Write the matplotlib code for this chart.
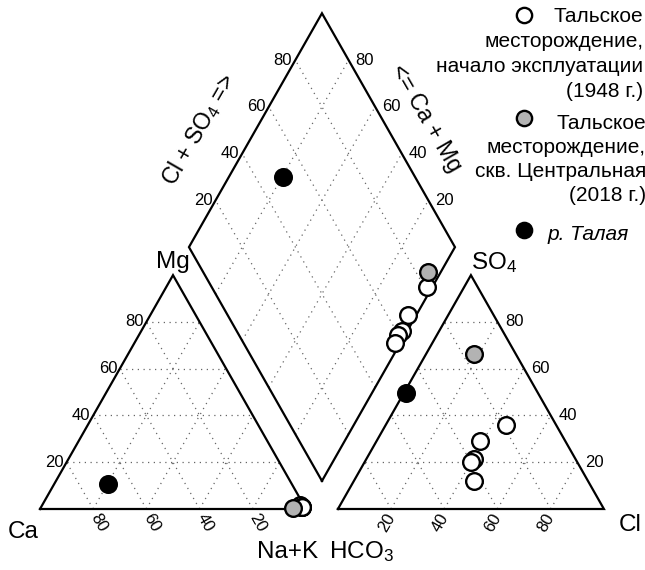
import numpy as np
import matplotlib
matplotlib.use('Agg')
import matplotlib.pyplot as plt

plt.rcParams['font.family'] = ['Liberation Sans', 'DejaVu Sans']
plt.rcParams['mathtext.fontset'] = 'custom'
plt.rcParams['mathtext.rm'] = 'Liberation Sans'
plt.rcParams['mathtext.it'] = 'Liberation Sans:italic'

# Data (% meq)
# Тальское месторождение, начало эксплуатации (1948)
ca_1948 = [1, 1.5, 1, 1.5, 1]
mg_1948 = [1, 1.5, 1, 1, 1]
nak_1948 = [98, 97, 98, 97.5, 98]
hco3_1948 = [19, 32, 38, 40, 43]
cl_1948 = [45, 39, 40.5, 40, 45]
so4_1948 = [36, 29, 21.5, 20, 12]

# скв. Центральная (2018)
ca_2018 = [4.5]
mg_2018 = [0.5]
nak_2018 = [95]
hco3_2018 = [15.5]
cl_2018 = [18]
so4_2018 = [66.5]

# р. Талая
ca_river = [69]
mg_river = [10.5]
nak_river = [20.5]
hco3_river = [49.5]
cl_river = [1]
so4_river = [49.5]

tick_values = [20, 40, 60, 80]

# Geometry
H = np.sqrt(3) / 2
GAP = 0.12
X0 = 1 + GAP              # left corner of the anion triangle
BX, BY = 1 + GAP / 2, GAP * H   # bottom corner of the diamond


def cation_xy(ca, mg, nak):
    ca, mg, nak = (np.asarray(v, float) for v in (ca, mg, nak))
    tot = ca + mg + nak
    return nak / tot + 0.5 * mg / tot, H * mg / tot


def anion_xy(hco3, cl, so4):
    hco3, cl, so4 = (np.asarray(v, float) for v in (hco3, cl, so4))
    tot = hco3 + cl + so4
    return X0 + cl / tot + 0.5 * so4 / tot, H * so4 / tot


def dpt(a, b):
    # a = Cl+SO4 fraction, b = Ca+Mg fraction
    return BX + 0.5 * (a - b), BY + H * (a + b)


def diamond_xy(ca, mg, nak, hco3, cl, so4):
    ca, mg, nak, hco3, cl, so4 = (np.asarray(v, float) for v in (ca, mg, nak, hco3, cl, so4))
    b = (ca + mg) / (ca + mg + nak)
    a = (cl + so4) / (hco3 + cl + so4)
    return dpt(a, b)


fig = plt.figure(figsize=(6.45, 5.7), dpi=100)
ax = fig.add_axes([0, 0, 1, 1])
ax.set_xlim(-40 / 266, 605 / 266)
ax.set_ylim(-61 / 270, 509 / 270)
ax.axis('off')

grid_style = dict(color='0.4', lw=0.9, linestyle=(0, (1, 3.6)), zorder=1)
edge_style = dict(color='black', lw=1.6, zorder=2, solid_joinstyle='miter')

steps = [v / 100 for v in tick_values]

# triangles
for x0 in (0, X0):
    ax.plot([x0, x0 + 1, x0 + 0.5, x0], [0, 0, H, 0], **edge_style)
    for t in steps:
        ax.plot([x0 + 0.5 * t, x0 + 1 - 0.5 * t], [H * t, H * t], **grid_style)
        ax.plot([x0 + t, x0 + 0.5 + 0.5 * t], [0, H * (1 - t)], **grid_style)
        ax.plot([x0 + 1 - t, x0 + 0.5 - 0.5 * t], [0, H * (1 - t)], **grid_style)

# diamond
corners = [dpt(0, 0), dpt(1, 0), dpt(1, 1), dpt(0, 1), dpt(0, 0)]
ax.plot([c[0] for c in corners], [c[1] for c in corners], **edge_style)
for t in steps:
    p, q = dpt(t, 0), dpt(t, 1)
    ax.plot([p[0], q[0]], [p[1], q[1]], **grid_style)
    p, q = dpt(0, t), dpt(1, t)
    ax.plot([p[0], q[0]], [p[1], q[1]], **grid_style)

# tick labels
tfs = 12
lx, ly = dpt(0, 1)   # left corner of diamond
rx, ry = dpt(1, 0)   # right corner of diamond
for v, t in zip(tick_values, steps):
    s = str(v)
    ax.text(0.5 * t - 0.01, H * t, s, ha='right', va='center', fontsize=tfs)
    ax.text(1 - t + 0.02, -0.05, s, ha='center', va='center', fontsize=tfs,
            rotation=-60, rotation_mode='anchor')
    ax.text(X0 + t - 0.016, -0.05, s, ha='center', va='center', fontsize=tfs,
            rotation=60, rotation_mode='anchor')
    ax.text(X0 + 1 - 0.5 * t + 0.028, H * t, s, ha='left', va='center', fontsize=tfs)
    ax.text(lx + 0.5 * t - 0.012, ly + H * t, s, ha='right', va='center', fontsize=tfs)
    ax.text(rx - 0.5 * t + 0.025, ry + H * t, s, ha='left', va='center', fontsize=tfs)

# corner labels
lfs = 17.5
ax.text(-0.064, -0.085, 'Ca', ha='center', va='center', fontsize=lfs)
ax.text(0.5, 0.915, 'Mg', ha='center', va='center', fontsize=lfs)
ax.text(0.932, -0.159, 'Na+K', ha='center', va='center', fontsize=lfs)
ax.text(X0 + 0.087, -0.159, r'HCO$_3$', ha='center', va='center', fontsize=lfs)
ax.text(X0 + 1.098, -0.059, 'Cl', ha='center', va='center', fontsize=lfs)
ax.text(X0 + 0.587, 0.911, r'SO$_4$', ha='center', va='center', fontsize=lfs)
ax.text(0.598, 1.404, r'Cl + SO$_4$ =>', ha='center', va='center', fontsize=16.5,
        rotation=60, rotation_mode='anchor')
ax.text(1.451, 1.448, '<= Ca + Mg', ha='center', va='center', fontsize=16.5,
        rotation=-60, rotation_mode='anchor')

# data points
groups = [
    (ca_1948, mg_1948, nak_1948, hco3_1948, cl_1948, so4_1948, 'white'),
    (ca_2018, mg_2018, nak_2018, hco3_2018, cl_2018, so4_2018, '#b3b3b3'),
    (ca_river, mg_river, nak_river, hco3_river, cl_river, so4_river, 'black'),
]
mk = dict(marker='o', linestyle='none', ms=12, mec='black', mew=1.7, zorder=5)
for ca, mg, nak, hco3, cl, so4, fc in groups:
    x, y = cation_xy(ca, mg, nak)
    ax.plot(x, y, mfc=fc, **mk)
    x, y = anion_xy(hco3, cl, so4)
    ax.plot(x, y, mfc=fc, **mk)
    x, y = diamond_xy(ca, mg, nak, hco3, cl, so4)
    ax.plot(x, y, mfc=fc, **mk)


# legend (pixel layout)
def fx(px):
    return px / 645


def fy(py):
    return 1 - py / 570


lgfs = 15
leg_mk = dict(marker='o', ms=11, mec='black', mew=1.7, transform=ax.transAxes, clip_on=False)
ax.plot(fx(524), fy(15), mfc='white', **leg_mk)
ax.plot(fx(524), fy(118), mfc='#b3b3b3', **leg_mk)
ax.plot(fx(524), fy(230), mfc='black', **leg_mk)

block1 = ['Тальское', 'месторождение,', 'начало эксплуатации', '(1948 г.)']
for line, py in zip(block1, [22, 47, 72, 97]):
    ax.text(fx(643), fy(py), line, ha='right', va='baseline', fontsize=lgfs,
            transform=ax.transAxes)
block2 = ['Тальское', 'месторождение,', 'скв. Центральная', '(2018 г.)']
for line, py in zip(block2, [129, 153, 177, 201]):
    ax.text(fx(646), fy(py), line, ha='right', va='baseline', fontsize=lgfs,
            transform=ax.transAxes)
ax.text(fx(548), fy(240), 'р. Талая', ha='left', va='baseline', fontsize=lgfs,
        style='italic', transform=ax.transAxes)

fig.savefig('out.png', dpi=100)
